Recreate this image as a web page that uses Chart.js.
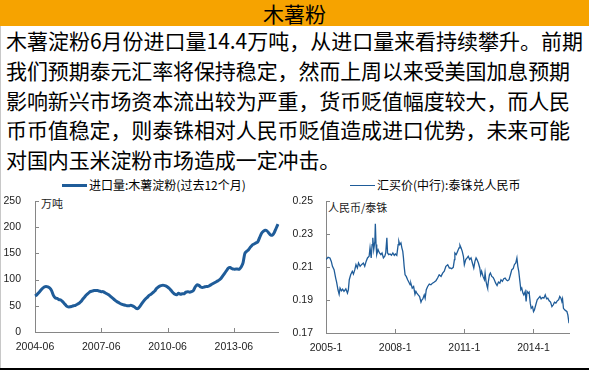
<!DOCTYPE html>
<html>
<head>
<meta charset="utf-8">
<script src="https://cdn.jsdelivr.net/npm/chart.js@4/dist/chart.umd.min.js"></script>
<style>
html,body{margin:0;padding:0;background:#fff;}
#wrap{position:relative;width:589px;height:370px;overflow:hidden;background:#fff;font-family:"Noto Sans CJK SC","Noto Sans",sans-serif;color:#000;}
#hdr{position:absolute;left:0;top:0;width:589px;height:26px;background:#F6A300;text-align:center;font-size:21px;line-height:26px;}
#para{position:absolute;left:6px;top:26px;font-size:21px;line-height:29.8px;white-space:nowrap;}
#para div{white-space:nowrap;}
#para span{display:inline-block;}
.leg{position:absolute;top:177px;height:16px;font-size:12px;line-height:16px;white-space:nowrap;}
.leg span.ln{display:inline-block;vertical-align:middle;margin-right:2px;background:#1F5C99;position:relative;top:-1px;}
.unit{position:absolute;font-size:11px;line-height:12px;white-space:nowrap;color:#222;}
canvas{position:absolute;}
#leftBorder{position:absolute;left:0;top:26px;width:1px;height:342px;background:#c8c8c8;}
#bottomLine{position:absolute;left:0;top:368px;width:589px;height:2px;background:#000;}
</style>
</head>
<body>
<div id="wrap">
  <div id="hdr">木薯粉</div>
  <div id="para"></div>
  <div class="leg" id="legL" style="left:62px;"><span class="ln" style="width:25px;height:3px;"></span><span id="legLText"></span></div>
  <div class="leg" id="legR" style="left:350px;"><span class="ln" style="width:25px;height:1.5px;"></span><span id="legRText"></span></div>
  <div class="unit" id="unitL" style="left:41px;top:197px;"></div>
  <div class="unit" id="unitR" style="left:328px;top:201px;"></div>
  <canvas id="cL" width="295" height="196" style="left:0;top:172px;"></canvas>
  <canvas id="cR" width="304" height="196" style="left:285px;top:172px;"></canvas>
  <div id="leftBorder"></div>
  <div id="bottomLine"></div>
</div>
<script>
// ---------- paragraph ----------
const paraLines = [
  '木薯淀粉6月份进口量14.4万吨，从进口量来看持续攀升。前期',
  '我们预期泰元汇率将保持稳定，然而上周以来受美国加息预期',
  '影响新兴市场资本流出较为严重，货币贬值幅度较大，而人民',
  '币币值稳定，则泰铢相对人民币贬值造成进口优势，未来可能',
  '对国内玉米淀粉市场造成一定冲击。'
];

// ---------- Left chart: cassava starch imports, rolling 12 months (万吨) ----------
const importSeriesName = '进口量:木薯淀粉(过去12个月)';
const importUnit = '万吨';
const importStart = {year: 2004, month: 6};
const importVolume = [
  69,71,75,79,83,86,87,86,84,79,70,65,
  64,62,61,58,54,50,48,48,49,50,51,53,
  55,58,63,67,71,74,77,78,79,79,79,78,
  77,77,75,73,71,68,65,62,59,57,55,53,
  52,51,50,50,51,50,48,45,45,49,54,59,
  63,66,70,72,75,78,83,86,88,89,89,88,
  86,83,79,75,72,71,74,72,73,73,76,77,
  76,77,79,86,90,89,86,85,86,87,87,89,
  91,93,95,97,99,102,107,112,117,122,123,121,
  120,120,120,120,124,132,150,154,157,162,166,168,
  170,172,180,188,192,194,193,189,185,185,190,198,
  206
];
const importTickLabels = ['2004-06','2007-06','2010-06','2013-06'];
const importYTicks = {min: 0, max: 250, step: 50};

// ---------- Right chart: BOC buying rate, THB -> CNY ----------
const fxSeriesName = '汇买价(中行):泰铢兑人民币';
const fxUnit = '人民币/泰铢';
const fxDate = [
  2005.00,2005.09,2005.17,2005.23,2005.28,2005.35,2005.42,2005.46,2005.52,2005.57,
  2005.61,2005.67,2005.72,2005.78,2005.86,2005.93,2005.97,2006.01,2006.07,2006.14,
  2006.19,2006.25,2006.30,2006.36,2006.41,2006.48,2006.54,2006.62,2006.68,2006.74,
  2006.80,2006.87,2006.91,2006.96,2007.00,2007.03,2007.07,2007.12,2007.14,2007.17,
  2007.20,2007.26,2007.32,2007.38,2007.43,2007.49,2007.55,2007.59,2007.64,2007.67,
  2007.72,2007.78,2007.84,2007.90,2007.96,2008.01,2008.07,2008.13,2008.16,2008.20,
  2008.25,2008.29,2008.33,2008.36,2008.39,2008.43,2008.48,2008.54,2008.59,2008.65,
  2008.68,2008.74,2008.80,2008.86,2008.90,2008.94,2009.00,2009.06,2009.12,2009.16,
  2009.20,2009.26,2009.30,2009.35,2009.41,2009.48,2009.55,2009.62,2009.70,2009.77,
  2009.84,2009.91,2009.99,2010.06,2010.13,2010.20,2010.28,2010.35,
  2010.38,2010.45,2010.52,2010.57,2010.59,2010.65,2010.71,2010.77,2010.81,2010.86,
  2010.91,2010.96,2011.00,2011.06,2011.12,2011.17,2011.23,2011.29,2011.35,2011.41,
  2011.46,2011.51,2011.55,2011.61,2011.67,2011.71,2011.75,2011.81,2011.87,2011.90,
  2011.94,2011.99,2012.01,2012.04,2012.09,2012.13,2012.19,2012.25,2012.30,2012.36,
  2012.42,2012.48,2012.54,2012.59,2012.65,2012.71,2012.77,2012.83,2012.88,2012.94,
  2013.00,2013.06,2013.12,2013.17,2013.23,2013.28,2013.32,2013.36,2013.41,2013.45,
  2013.49,2013.54,2013.58,2013.64,2013.68,2013.72,2013.77,2013.81,2013.86,2013.90,
  2013.96,2014.00,2014.04,2014.10,2014.16,2014.22,2014.28,2014.33,2014.39,2014.45,
  2014.51,2014.57,2014.62,2014.68,2014.74,2014.80,2014.86,2014.91,2014.97,2015.03,
  2015.09,2015.14,2015.19,2015.23,2015.26,2015.30,2015.35,2015.41,2015.45,2015.49,
  2015.54
];
const fxRate = [
  0.2145,0.2159,0.2155,0.2134,0.2104,0.2084,0.2033,0.2009,0.1962,0.1935,
  0.1972,0.1956,0.1966,0.1952,0.1968,0.1942,0.1962,0.2023,0.2053,0.2074,
  0.2057,0.2084,0.2114,0.2094,0.2124,0.2104,0.2114,0.2124,0.2104,0.2134,
  0.2155,0.2165,0.2216,0.2155,0.2236,0.2277,0.2205,0.2256,0.2362,0.2236,
  0.2175,0.2205,0.2185,0.2175,0.2185,0.2155,0.2165,0.2185,0.2277,0.2185,
  0.2175,0.2179,0.2171,0.2185,0.2171,0.2179,0.2171,0.2236,0.2256,0.2236,
  0.2246,0.2216,0.2195,0.2155,0.2104,0.2053,0.2043,0.2023,0.2009,0.1992,
  0.2002,0.1972,0.1982,0.1935,0.1952,0.1942,0.1931,0.1921,0.1887,0.1901,
  0.1907,0.1931,0.1911,0.1962,0.1982,0.1996,0.1992,0.2002,0.2009,0.2017,
  0.2033,0.2053,0.2043,0.2063,0.2074,0.2104,0.2114,0.2094,
  0.2094,0.2090,0.2098,0.2145,0.2185,0.2175,0.2195,0.2216,0.2232,0.2216,
  0.2195,0.2165,0.2114,0.2145,0.2155,0.2165,0.2145,0.2155,0.2124,0.2094,
  0.2134,0.2155,0.2145,0.2124,0.2094,0.2053,0.2074,0.2043,0.2023,0.2063,
  0.2013,0.1982,0.1972,0.2009,0.2053,0.2063,0.2043,0.2037,0.2023,0.2002,
  0.1988,0.2009,0.2002,0.2023,0.2013,0.2029,0.2033,0.2021,0.2017,0.2023,
  0.2053,0.2084,0.2090,0.2114,0.2124,0.2155,0.2104,0.2074,0.2013,0.1962,
  0.1972,0.1942,0.1931,0.1952,0.1891,0.1952,0.1942,0.1948,0.1881,0.1850,
  0.1860,0.1830,0.1840,0.1871,0.1901,0.1911,0.1921,0.1907,0.1915,0.1911,
  0.1931,0.1907,0.1911,0.1895,0.1887,0.1860,0.1871,0.1887,0.1881,0.1895,
  0.1901,0.1921,0.1911,0.1891,0.1907,0.1850,0.1840,0.1834,0.1830,0.1810,
  0.1759
];
const fxTickYears = [2005, 2008, 2011, 2014];
const fxTickLabels = ['2005-1','2008-1','2011-1','2014-1'];
const fxYTicks = {min: 0.17, max: 0.25, step: 0.02};

// ---------- text ----------
document.getElementById('legLText').textContent = importSeriesName;
document.getElementById('legRText').textContent = fxSeriesName;
document.getElementById('unitL').textContent = importUnit;
document.getElementById('unitR').textContent = fxUnit;

const para = document.getElementById('para');
const lineSpans = paraLines.map(t => {
  const d = document.createElement('div');
  const s = document.createElement('span');
  s.textContent = t;
  d.appendChild(s);
  para.appendChild(d);
  return s;
});
// fit full lines to the reference line length
const fullLineWidth = [577, 564, 564, 564];
function fitPara() {
  let ref = 0;
  lineSpans.forEach((s, i) => {
    s.style.letterSpacing = '0px';
    const n = [...paraLines[i]].length;
    const w = s.getBoundingClientRect().width;
    let ls;
    if (i < fullLineWidth.length) { ls = (fullLineWidth[i] - w) / (n - 0.6); if (i === 1) ref = ls; }
    else ls = ref;
    s.style.letterSpacing = ls + 'px';
  });
}
fitPara();
if (document.fonts && document.fonts.ready) document.fonts.ready.then(fitPara);

// month category labels
const importMonths = importVolume.map((_, i) => {
  const t = importStart.year * 12 + (importStart.month - 1) + i;
  const y = Math.floor(t / 12), m = t % 12 + 1;
  return y + '-' + String(m).padStart(2, '0');
});

const LINE = '#1F5C99';
const AXIS = '#868686';
const tickFont = {family: '"Liberation Sans", Arial, sans-serif', size: 10.5};

// inward tick marks
const innerTicks = {
  id: 'innerTicks',
  afterDatasetsDraw(chart) {
    const ctx = chart.ctx, xs = chart.scales.x, ys = chart.scales.y;
    ctx.save();
    ctx.strokeStyle = AXIS; ctx.lineWidth = 1;
    ctx.beginPath();
    ys.ticks.forEach(t => {
      const y = Math.round(ys.getPixelForValue(t.value)) + 0.5;
      ctx.moveTo(xs.left, y); ctx.lineTo(xs.left + 4, y);
    });
    xs.ticks.forEach(t => {
      if (t.label === null || t.label === undefined || t.label === '') return;
      const x = Math.round(xs.getPixelForValue(t.value)) + 0.5;
      ctx.moveTo(x, ys.bottom); ctx.lineTo(x, ys.bottom - 4);
    });
    ctx.stroke();
    ctx.restore();
  }
};

Chart.defaults.animation = false;

new Chart(document.getElementById('cL'), {
  type: 'line',
  data: {
    labels: importMonths,
    datasets: [{
      label: importSeriesName,
      data: importVolume,
      borderColor: LINE,
      backgroundColor: LINE,
      borderWidth: 3,
      pointRadius: 0,
      tension: 0.25,
      fill: false
    }]
  },
  options: {
    responsive: false,
    devicePixelRatio: 1,
    layout: {padding: {top: 29, right: 17, left: 0, bottom: 0}},
    plugins: {legend: {display: false}, tooltip: {enabled: false}},
    scales: {
      x: {
        type: 'category',
        offset: false,
        grid: {display: false, drawTicks: false},
        border: {display: true, color: AXIS, width: 1},
        ticks: {
          autoSkip: false, maxRotation: 0, minRotation: 0, padding: 9,
          color: '#222', font: tickFont,
          callback: function (v) {
            const l = this.getLabelForValue(v);
            return importTickLabels.includes(l) ? l : null;
          }
        },
        afterFit: s => { s.height = 36; }
      },
      y: {
        min: importYTicks.min, max: importYTicks.max,
        grid: {display: false, drawTicks: false},
        border: {display: true, color: AXIS, width: 1},
        ticks: {stepSize: importYTicks.step, padding: 14, color: '#222', font: tickFont},
        afterFit: s => { s.width = 35; }
      }
    }
  },
  plugins: [innerTicks]
});

new Chart(document.getElementById('cR'), {
  type: 'line',
  data: {
    datasets: [{
      label: fxSeriesName,
      data: fxDate.map((d, i) => ({x: d, y: fxRate[i]})),
      borderColor: LINE,
      backgroundColor: LINE,
      borderWidth: 1.3,
      pointRadius: 0,
      tension: 0,
      fill: false
    }]
  },
  options: {
    responsive: false,
    devicePixelRatio: 1,
    layout: {padding: {top: 29, right: 20, left: 0, bottom: 0}},
    plugins: {legend: {display: false}, tooltip: {enabled: false}},
    scales: {
      x: {
        type: 'linear',
        min: fxTickYears[0], max: fxDate[fxDate.length - 1],
        grid: {display: false, drawTicks: false},
        border: {display: true, color: AXIS, width: 1},
        afterBuildTicks: s => { s.ticks = fxTickYears.map(v => ({value: v})); },
        ticks: {
          maxRotation: 0, minRotation: 0, padding: 9, color: '#222', font: tickFont,
          callback: v => fxTickLabels[fxTickYears.indexOf(v)]
        },
        afterFit: s => { s.height = 35; }
      },
      y: {
        min: fxYTicks.min, max: fxYTicks.max,
        grid: {display: false, drawTicks: false},
        border: {display: true, color: AXIS, width: 1},
        ticks: {stepSize: fxYTicks.step, padding: 13, color: '#222', font: tickFont,
          callback: v => Number(v).toFixed(2)},
        afterFit: s => { s.width = 41; }
      }
    }
  },
  plugins: [innerTicks]
});
</script>
</body>
</html>
